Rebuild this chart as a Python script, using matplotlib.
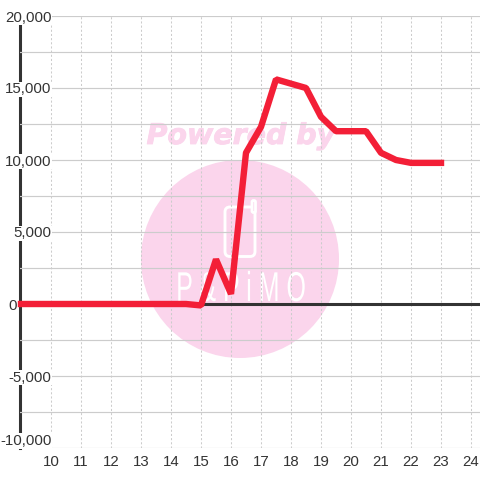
import matplotlib
matplotlib.use("Agg")
import matplotlib.pyplot as plt
from matplotlib.patches import Circle, FancyBboxPatch
from matplotlib.patheffects import AbstractPathEffect, withStroke
from matplotlib.transforms import Affine2D

hours = [9, 9.5, 10, 10.5, 11, 11.5, 12, 12.5, 13, 13.5, 14, 14.5, 15, 15.5, 16,
         16.5, 17, 17.5, 18, 18.5, 19, 19.5, 20, 20.5, 21, 21.5, 22, 22.5, 23]
values = [0, 0, 0, 0, 0, 0, 0, 0, 0, 0, 0, 0, -100, 3100, 700,
          10500, 12300, 15600, 15300, 15000, 13000, 12000, 12000, 12000, 10500, 10000, 9800, 9800, 9800]
x_ticks = list(range(10, 25))
y_major = [-10000, -5000, 0, 5000, 10000, 15000, 20000]
y_minor = [-7500, -2500, 2500, 7500, 12500, 17500]
wm_title = "Powered by"
wm_logo = "P & P i M O"


class Squeeze(AbstractPathEffect):
    """Narrow a text horizontally about a fixed x position (display pixels)."""
    def __init__(self, cx, sx):
        super().__init__()
        self.cx, self.sx = cx, sx

    def draw_path(self, renderer, gc, tpath, affine, rgbFace=None):
        squeezed = affine + Affine2D().translate(-self.cx, 0).scale(self.sx, 1).translate(self.cx, 0)
        renderer.draw_path(gc, tpath, squeezed, rgbFace)


plt.rcParams["font.family"] = ["Liberation Sans", "DejaVu Sans"]
fig = plt.figure(figsize=(4.8, 4.8), dpi=100, facecolor="white")

# watermark layer in pixel coordinates
bg = fig.add_axes([0, 0, 1, 1], zorder=0)
bg.set_xlim(0, 480)
bg.set_ylim(480, 0)
bg.axis("off")
pink = "#fbd5ec"
bg.add_patch(Circle((240, 259), 99, fc=pink, ec="none"))
bg.text(241, 136, wm_title, color=pink, fontsize=20.5, fontweight="bold", style="italic",
        family="DejaVu Sans", ha="center", va="center",
        path_effects=[withStroke(linewidth=0.6, foreground=pink)])
bg.add_patch(FancyBboxPatch((225, 207), 30, 49.5, boxstyle="round,pad=0,rounding_size=5",
                            fc="none", ec="white", lw=2.1))
bg.add_patch(FancyBboxPatch((252, 200.5), 3.5, 12, boxstyle="round,pad=0,rounding_size=1.5",
                            fc=pink, ec="white", lw=2.0))
bg.text(241, 290, wm_logo, color="white", fontsize=30, ha="center", va="center",
        path_effects=[Squeeze(241, 0.6)])

ax = fig.add_axes([20 / 480, (480 - 448) / 480, 460 / 480, 432 / 480], zorder=1)
ax.patch.set_alpha(0)
ax.set_xlim(8.9667, 24.3)
ax.set_ylim(-10000, 20000)
for side in ("top", "right", "bottom"):
    ax.spines[side].set_visible(False)
ax.spines["left"].set_linewidth(2.2)
ax.spines["left"].set_color("#333333")
ax.spines["left"].set_zorder(0.3)

ax.set_axisbelow(True)
ax.set_xticks(x_ticks)
ax.set_yticks(y_major)
ax.set_yticks(y_minor, minor=True)
ax.set_yticklabels([f"{v:,}" for v in y_major])
ax.grid(True, axis="y", which="both", color="#cccccc", lw=0.85)
ax.grid(True, axis="x", which="major", color="#cccccc", lw=0.75, ls=(0, (2, 2)))
ax.tick_params(axis="y", which="both", length=0, pad=-22.6, labelsize=10.8, labelcolor="#333333")
ax.tick_params(axis="x", length=0, pad=5, labelsize=10.8, labelcolor="#333333")

zero_index = y_major.index(0)
for i, lab in enumerate(ax.get_yticklabels()):
    if i != zero_index:
        lab.set_bbox(dict(fc="white", ec="none", pad=0.4))
ax.get_yticklabels()[0].set_verticalalignment("bottom")
ax.yaxis.get_major_ticks()[zero_index].set_pad(2.4)

ax.axhline(0, color="#333333", lw=2.2, zorder=3)
ax.plot(hours, values, color="#f31f37", lw=4.6, solid_joinstyle="bevel",
        solid_capstyle="projecting", zorder=4, clip_on=False)

fig.savefig("out.png", dpi=100, facecolor="white")
